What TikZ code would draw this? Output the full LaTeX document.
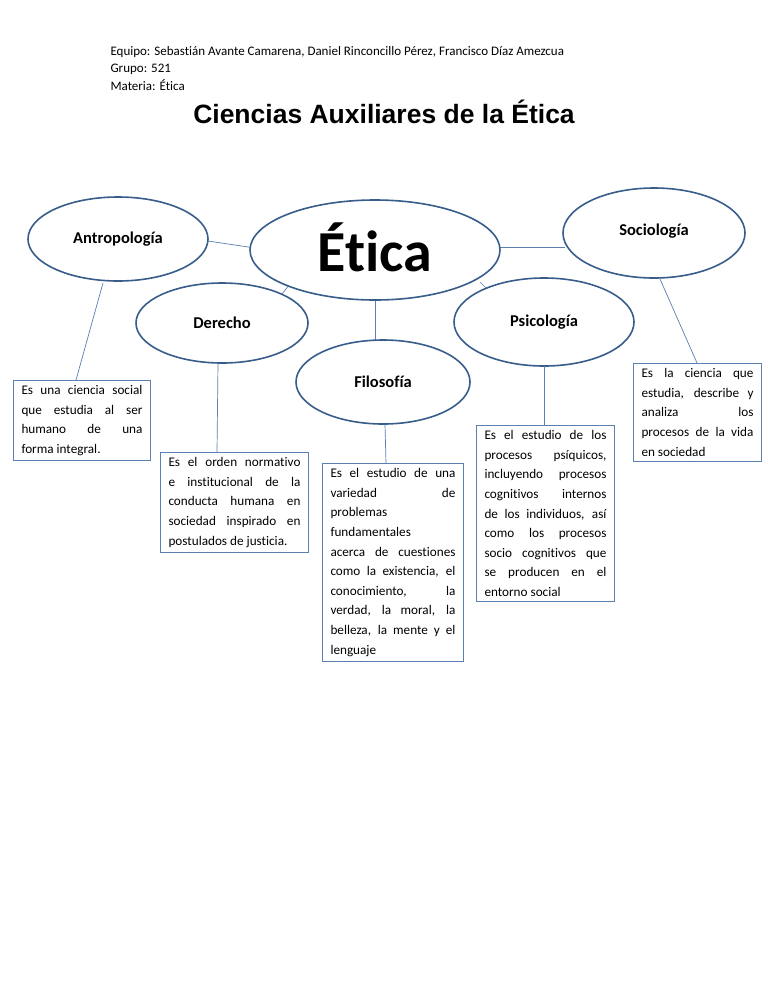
\documentclass[tikz,border=0pt]{standalone}
\usepackage{fontspec}
\setmainfont{Carlito}[Ligatures=NoCommon]
\newfontfamily\arialf{Liberation Sans}
\usetikzlibrary{shapes.geometric}
\definecolor{ebord}{HTML}{385D8A}
\definecolor{lblue}{HTML}{5B7FB0}
\tikzset{
 ell/.style={ellipse,draw=ebord,line width=1.6pt,fill=white,font=\fontsize{16.5}{18}\selectfont\bfseries},
 con/.style={draw=lblue,line width=0.7pt},
 tbox/.style={draw=lblue,line width=1pt,fill=white,anchor=north west,inner xsep=8pt,inner ysep=5pt,align=justify,font=\fontsize{13.2}{19.6}\selectfont}
}
\newcommand{\LB}{\linebreak}
\begin{document}
\begin{tikzpicture}[x=1pt,y=-1pt]
\useasboundingbox (0,0) rectangle (768,994);
\fill[white] (0,0) rectangle (768,994);
\node[anchor=west,font=\fontsize{13}{14}\selectfont] (h1) at (107,52) {Equipo: Sebastián Avante Camarena, Daniel Rinconcillo Pérez, Francisco Díaz Amezcua};
\node[anchor=west,font=\fontsize{13}{14}\selectfont] (h2) at (107,69) {Grupo: 521};
\node[anchor=west,font=\fontsize{13}{14}\selectfont] (h3) at (107,85) {Materia: Ética};
\node[font=\arialf\bfseries\fontsize{26.5}{28}\selectfont] (title) at (384,112) {Ciencias Auxiliares de la Ética};

\coordinate (a1) at (208,241); \coordinate (e1) at (255,248);
\draw[con] (a1) -- (e1);
\coordinate (e2) at (500,247); \coordinate (s1) at (565,247);
\draw[con] (e2) -- (s1);
\coordinate (e3) at (290,284); \coordinate (d1) at (278,299);
\draw[con] (e3) -- (d1);
\coordinate (e4) at (480,282); \coordinate (p1) at (492,294);
\draw[con] (e4) -- (p1);
\coordinate (e5) at (375,298); \coordinate (f1) at (375,342);
\draw[con] (e5) -- (f1);

\node[ell,minimum width=180pt,minimum height=84pt] (antro) at (118,239) {Antropología};
\node[ell,minimum width=250pt,minimum height=100pt,font=\fontsize{58}{60}\selectfont\bfseries] (etica) at (375,250) {\raisebox{6pt}{Ética}};
\node[ell,minimum width=182pt,minimum height=90pt] (socio) at (654,233) {\raisebox{6pt}{Sociología}};
\node[ell,minimum width=172pt,minimum height=80pt] (der) at (222,323) {Derecho};
\node[ell,minimum width=180pt,minimum height=88pt] (psico) at (544,322) {Psicología};
\node[ell,minimum width=174pt,minimum height=84pt] (filo) at (383,382) {Filosofía};

\node[tbox,text width=121pt] (ba) at (13,380) {Es una ciencia social\LB que estudia al ser\LB humano de una\LB forma integral.\par};
\node[tbox,text width=132pt] (bd) at (160,452) {Es el orden normativo\LB e institucional de la\LB conducta humana en\LB sociedad inspirado en\LB postulados de justicia.\par};
\node[tbox,text width=125pt] (bf) at (322,463) {Es el estudio de una\LB variedad de\LB problemas\par\noindent fundamentales\par\noindent acerca de cuestiones\LB como la existencia, el\LB conocimiento, la\LB verdad, la moral, la\LB belleza, la mente y el\LB lenguaje\par};
\node[tbox,text width=122pt] (bp) at (476,425) {Es el estudio de los\LB procesos psíquicos,\LB incluyendo procesos\LB cognitivos internos\LB de los individuos, así\LB como los procesos\LB socio cognitivos que\LB se producen en el\LB entorno social\par};
\node[tbox,text width=112pt] (bs) at (633,363) {Es la ciencia que\LB estudia, describe y\LB analiza los\LB procesos de la vida\LB en sociedad\par};

\coordinate (a2) at (103,283); \coordinate (ba1) at (76,380);
\draw[con] (a2) -- (ba1);
\coordinate (d2) at (218,363); \coordinate (bd1) at (217,452);
\draw[con] (d2) -- (bd1);
\coordinate (f2) at (385,424); \coordinate (bf1) at (386,463);
\draw[con] (f2) -- (bf1);
\coordinate (p2) at (544,366); \coordinate (bp1) at (544,425);
\draw[con] (p2) -- (bp1);
\coordinate (s2) at (660,279); \coordinate (bs1) at (697,363);
\draw[con] (s2) -- (bs1);
\end{tikzpicture}
\end{document}
